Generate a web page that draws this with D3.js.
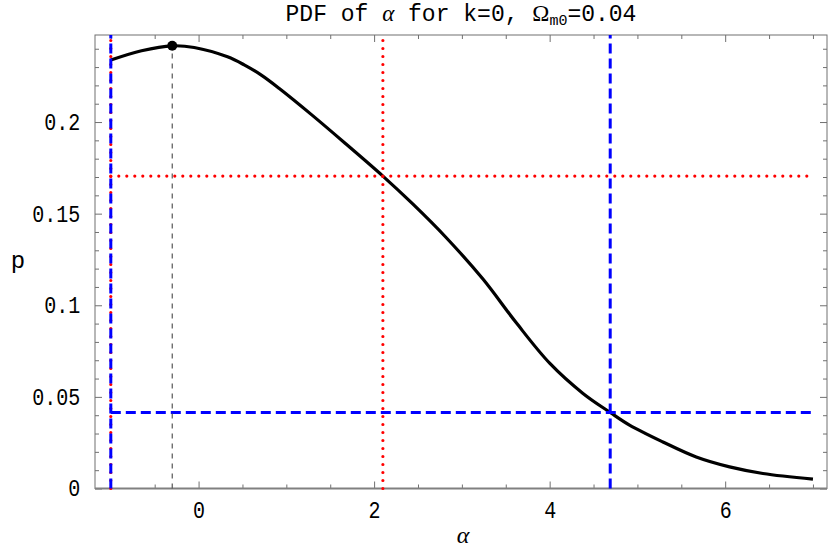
<!DOCTYPE html>
<html><head><meta charset="utf-8">
<script src="https://cdn.jsdelivr.net/npm/d3@7"></script>
<style>body{margin:0;background:#fff}</style>
</head><body><svg id="c" width="830" height="552"></svg>
<script>
// ---- data ----
const alphaVals = [-1.00, -0.65, -0.30, -0.05, 0.33, 0.52, 0.715, 0.92, 1.30, 1.68, 2.10, 2.44, 2.82, 3.24, 3.62, 4.00, 4.38, 4.69, 4.91, 5.29, 5.67, 6.05, 6.43, 7.00];
const pdfVals   = [0.2338, 0.2389, 0.2416, 0.2407, 0.2356, 0.2312, 0.2256, 0.2183, 0.2035, 0.1880, 0.1705, 0.1553, 0.1370, 0.1143, 0.0904, 0.0684, 0.0519, 0.0415, 0.0346, 0.0254, 0.0172, 0.0118, 0.0082, 0.0051];
const xMajorTicks = [0, 2, 4, 6];
const xTickLabels = ["0", "2", "4", "6"];
const yMajorTicks = [0, 0.05, 0.1, 0.15, 0.2];
const yTickLabels = ["0", "0.05", "0.1", "0.15", "0.2"];
const modePoint = [-0.30, 0.2416];
const redAlphas = [-1, 2.10];
const redLevel = [0.1705];
const blueAlphas = [-1, 4.69];
const blueLevel = [0.0415];
const lineSpan = [-1, 7];
const titleParts = {pre: "PDF of ", greek: "α", mid: " for k=0, ", omega: "Ω", sub: "m0", post: "=0.04"};

// ---- layout ----
const svg = d3.select("#c");
svg.append("rect").attr("width", 830).attr("height", 552).attr("fill", "#fff");
const L = 95, R = 827, T = 35, B = 488.5;
const x = d3.scaleLinear().domain([-1.18, 7.16]).range([L, R]);
const y = d3.scaleLinear().domain([0, 0.2475]).range([B, T]);
const axisColor = "#707070";
const mono = "'Liberation Mono', 'Courier New', monospace";

const xMinor = d3.range(-1, 7.01, 0.5).filter(v => !xMajorTicks.some(m => Math.abs(m - v) < 1e-9));
const yMinor = d3.range(0.01, 0.245, 0.01).filter(v => !yMajorTicks.some(m => Math.abs(m - v) < 1e-9));

function styleAxis(g) {
  g.select(".domain").remove();
  g.selectAll("line").attr("stroke", axisColor).attr("stroke-width", 1);
}

// frame
svg.append("rect").attr("x", L).attr("y", T).attr("width", R - L).attr("height", B - T)
  .attr("fill", "none").attr("stroke", axisColor).attr("stroke-width", 1);

// bottom
svg.append("g").attr("transform", `translate(0,${B})`)
  .call(d3.axisBottom(x).tickValues(xMinor).tickSizeInner(-4).tickSizeOuter(0).tickFormat(""))
  .call(styleAxis);
const gb = svg.append("g").attr("transform", `translate(0,${B})`)
  .call(d3.axisBottom(x).tickValues(xMajorTicks).tickFormat((d, i) => xTickLabels[i]).tickSizeInner(-7).tickSizeOuter(0).tickPadding(13))
  .call(styleAxis);
gb.selectAll("text").attr("font-family", mono).attr("font-size", 23).attr("fill", "#000").attr("transform", "scale(0.87,1)");

// top
svg.append("g").attr("transform", `translate(0,${T})`)
  .call(d3.axisTop(x).tickValues(xMinor).tickSizeInner(-4).tickSizeOuter(0).tickFormat(""))
  .call(styleAxis);
svg.append("g").attr("transform", `translate(0,${T})`)
  .call(d3.axisTop(x).tickValues(xMajorTicks).tickSizeInner(-7).tickSizeOuter(0).tickFormat(""))
  .call(styleAxis);

// left
svg.append("g").attr("transform", `translate(${L},0)`)
  .call(d3.axisLeft(y).tickValues(yMinor).tickSizeInner(-4).tickSizeOuter(0).tickFormat(""))
  .call(styleAxis);
const gl = svg.append("g").attr("transform", `translate(${L},0)`)
  .call(d3.axisLeft(y).tickValues(yMajorTicks).tickFormat((d, i) => yTickLabels[i]).tickSizeInner(-7).tickSizeOuter(0).tickPadding(17))
  .call(styleAxis);
gl.selectAll("text").attr("font-family", mono).attr("font-size", 23).attr("fill", "#000").attr("transform", "scale(0.87,1)");

// right
svg.append("g").attr("transform", `translate(${R},0)`)
  .call(d3.axisRight(y).tickValues(yMinor).tickSizeInner(-4).tickSizeOuter(0).tickFormat(""))
  .call(styleAxis);
svg.append("g").attr("transform", `translate(${R},0)`)
  .call(d3.axisRight(y).tickValues(yMajorTicks).tickSizeInner(-7).tickSizeOuter(0).tickFormat(""))
  .call(styleAxis);

// zero axis line
svg.append("line").attr("x1", L).attr("x2", R).attr("y1", y(0)).attr("y2", y(0))
  .attr("stroke", "#808080").attr("stroke-width", 2.2);

// curve
const pts = alphaVals.map((a, i) => [a, pdfVals[i]]);
svg.append("path").datum(pts)
  .attr("d", d3.line().x(d => x(d[0])).y(d => y(d[1])).curve(d3.curveCatmullRom.alpha(0.5)))
  .attr("fill", "none").attr("stroke", "#000").attr("stroke-width", 3.2);

// red dotted lines
const redG = svg.append("g").attr("stroke", "#ff0000").attr("stroke-width", 3.2)
  .attr("stroke-dasharray", "0,8").attr("stroke-linecap", "round");
redG.selectAll(".v").data(redAlphas).join("line")
  .attr("x1", d => x(d)).attr("x2", d => x(d)).attr("y1", y(0)).attr("y2", T);
redG.selectAll(".h").data(redLevel).join("line")
  .attr("x1", x(lineSpan[0])).attr("x2", x(lineSpan[1])).attr("y1", d => y(d)).attr("y2", d => y(d));

// blue dashed lines
const blueG = svg.append("g").attr("stroke", "#0000ff").attr("stroke-width", 3)
  .attr("stroke-dasharray", "10,5");
blueG.selectAll(".v").data(blueAlphas).join("line")
  .attr("x1", d => x(d)).attr("x2", d => x(d)).attr("y1", y(0)).attr("y2", T);
blueG.selectAll(".h").data(blueLevel).join("line")
  .attr("x1", x(lineSpan[0])).attr("x2", x(lineSpan[1])).attr("y1", d => y(d)).attr("y2", d => y(d));

// mode marker
svg.append("line").attr("x1", x(modePoint[0])).attr("x2", x(modePoint[0]))
  .attr("y1", y(0)).attr("y2", y(modePoint[1]))
  .attr("stroke", "#555").attr("stroke-width", 1.2).attr("stroke-dasharray", "5,5");
svg.append("circle").attr("cx", x(modePoint[0])).attr("cy", y(modePoint[1])).attr("r", 5).attr("fill", "#000");

// title
const title = svg.append("text").attr("x", (L + R) / 2).attr("y", 21).attr("text-anchor", "middle")
  .attr("font-family", mono).attr("font-size", 23).attr("fill", "#000");
title.append("tspan").text(titleParts.pre);
title.append("tspan").attr("font-family", "'Liberation Serif', serif").attr("font-style", "italic").text(titleParts.greek);
title.append("tspan").text(titleParts.mid);
title.append("tspan").attr("font-family", "'Liberation Serif', serif").text(titleParts.omega);
title.append("tspan").attr("font-size", 15).attr("dy", 4).text(titleParts.sub);
title.append("tspan").attr("dy", -4).text(titleParts.post);

// axis labels
svg.append("text").attr("x", 18).attr("y", 268).attr("text-anchor", "middle")
  .attr("font-family", mono).attr("font-size", 24).attr("fill", "#000").text("p");
svg.append("text").attr("x", (L + R) / 2 + 2).attr("y", 543).attr("text-anchor", "middle")
  .attr("font-family", "'Liberation Serif', serif").attr("font-style", "italic").attr("font-size", 24).attr("fill", "#000").text("α");
</script></body></html>
